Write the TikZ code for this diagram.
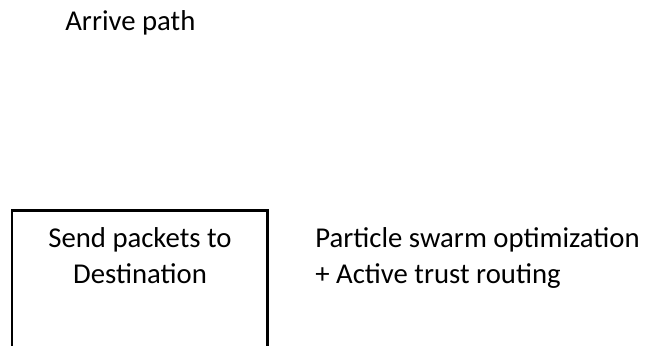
\documentclass[tikz,border=0pt]{standalone}
\usepackage{fontspec}
\setmainfont{Carlito}
\begin{document}
\begin{tikzpicture}[x=0.02cm, y=0.02cm, line join=miter, font=\fontsize{16.35}{20.5}\selectfont]
			\useasboundingbox (0,0) rectangle (646,345);
			\path
			(12,-10) coordinate (BL)
			(12,134) coordinate (TL)
			(267,134) coordinate (TR)
			(267,-10) coordinate (BR)
			;
			\draw [line width=0.06cm] (BL) -- (TL) -- (TR) -- (BR);
			\node [inner sep=0, anchor=base west] (arrive) at (65,314) {Arrive path};
			% base of a two-line node is the second line
			\node [inner sep=0, align=center, anchor=base] (send) at (140,61) {Send packets to\\Destination};
			\node [inner sep=0, align=left, anchor=base west] (pso) at (315,61) {Particle swarm optimization\\+ Active trust routing};
		\end{tikzpicture}
\end{document}
